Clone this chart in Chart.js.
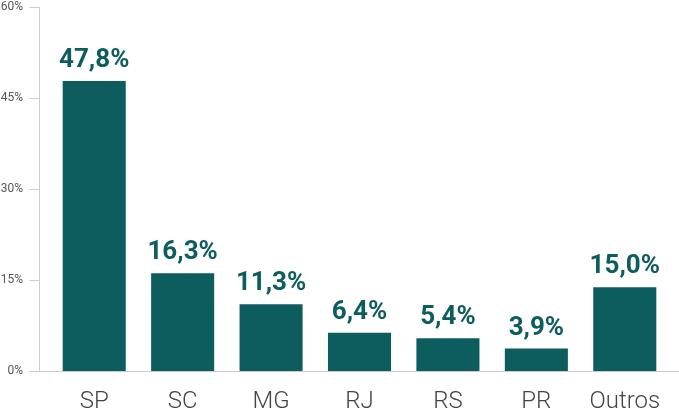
<!DOCTYPE html>
<html>
<head>
<meta charset="utf-8">
<script src="https://cdn.jsdelivr.net/npm/chart.js@4"></script>
<style>
  html, body { margin: 0; padding: 0; background: #fff; }
  #wrap { width: 679px; height: 415px; position: relative; }
</style>
</head>
<body>
<div id="wrap"><canvas id="chart"></canvas></div>
<script>
// ── Data ──────────────────────────────────────────────────────────────────────
const categories  = ['SP', 'SC', 'MG', 'RJ', 'RS', 'PR', 'Outros'];
const shares      = [47.8, 16.1, 11.0, 6.3, 5.4, 3.7, 13.8];   // bar heights as drawn
const valueLabels = ['47,8%', '16,3%', '11,3%', '6,4%', '5,4%', '3,9%', '15,0%'];
const yTicks      = [0, 15, 30, 45, 60];

const TEAL = '#0d5c5e';
const AXIS = '#cccccc';

// ── Plugins ───────────────────────────────────────────────────────────────────
// axis lines sit 11px left of the plot area, like the original
const axisLines = {
  id: 'axisLines',
  afterDraw(chart) {
    const { ctx, chartArea, scales } = chart;
    const x0 = chartArea.left - 11 + 0.5;
    const top = scales.y.getPixelForValue(yTicks[yTicks.length - 1]);
    const bottom = scales.y.getPixelForValue(0);
    ctx.save();
    ctx.strokeStyle = AXIS;
    ctx.lineWidth = 1;
    ctx.beginPath();
    ctx.moveTo(x0, top);
    ctx.lineTo(x0, bottom + 0.5);
    ctx.lineTo(chart.width, bottom + 0.5);
    yTicks.forEach(t => {
      const py = Math.round(scales.y.getPixelForValue(t)) + 0.5;
      ctx.moveTo(x0 - 10, py);
      ctx.lineTo(x0, py);
    });
    ctx.stroke();
    ctx.restore();
  }
};

const barLabels = {
  id: 'barLabels',
  afterDatasetsDraw(chart) {
    const { ctx } = chart;
    const meta = chart.getDatasetMeta(0);
    ctx.save();
    ctx.fillStyle = TEAL;
    ctx.font = 'bold 26px Roboto';
    ctx.textAlign = 'center';
    ctx.textBaseline = 'alphabetic';
    meta.data.forEach((bar, i) => {
      ctx.fillText(valueLabels[i], bar.x, bar.y - 14);
    });
    ctx.restore();
  }
};

// ── Chart ─────────────────────────────────────────────────────────────────────
new Chart(document.getElementById('chart'), {
  type: 'bar',
  data: {
    labels: categories,
    datasets: [{
      data: shares,
      backgroundColor: TEAL,
      borderWidth: 0,
      categoryPercentage: 1,
      barPercentage: 0.713,
    }]
  },
  options: {
    responsive: true,
    maintainAspectRatio: false,
    animation: false,
    layout: { padding: { top: 7, right: 10, left: 0, bottom: 0 } },
    plugins: {
      legend: { display: false },
      tooltip: { enabled: false },
    },
    scales: {
      x: {
        grid: { display: false },
        border: { display: false },
        ticks: {
          color: '#444',
          font: { family: 'Roboto', size: 24, weight: '300' },
          padding: 9,
          maxRotation: 0,
        },
        afterFit(scale) { scale.height = 44; },
      },
      y: {
        min: 0,
        max: 60,
        afterBuildTicks(scale) { scale.ticks = yTicks.map(v => ({ value: v })); },
        grid: { display: false },
        border: { display: false },
        ticks: {
          color: '#555',
          font: { family: 'Roboto', size: 12 },
          padding: 19,
          callback: v => v + '%',
        },
        afterFit(scale) {
          scale.width = 50;
          scale.paddingTop = 0;
          scale.paddingBottom = 0;
        },
      }
    }
  },
  plugins: [axisLines, barLabels]
});
</script>
</body>
</html>
